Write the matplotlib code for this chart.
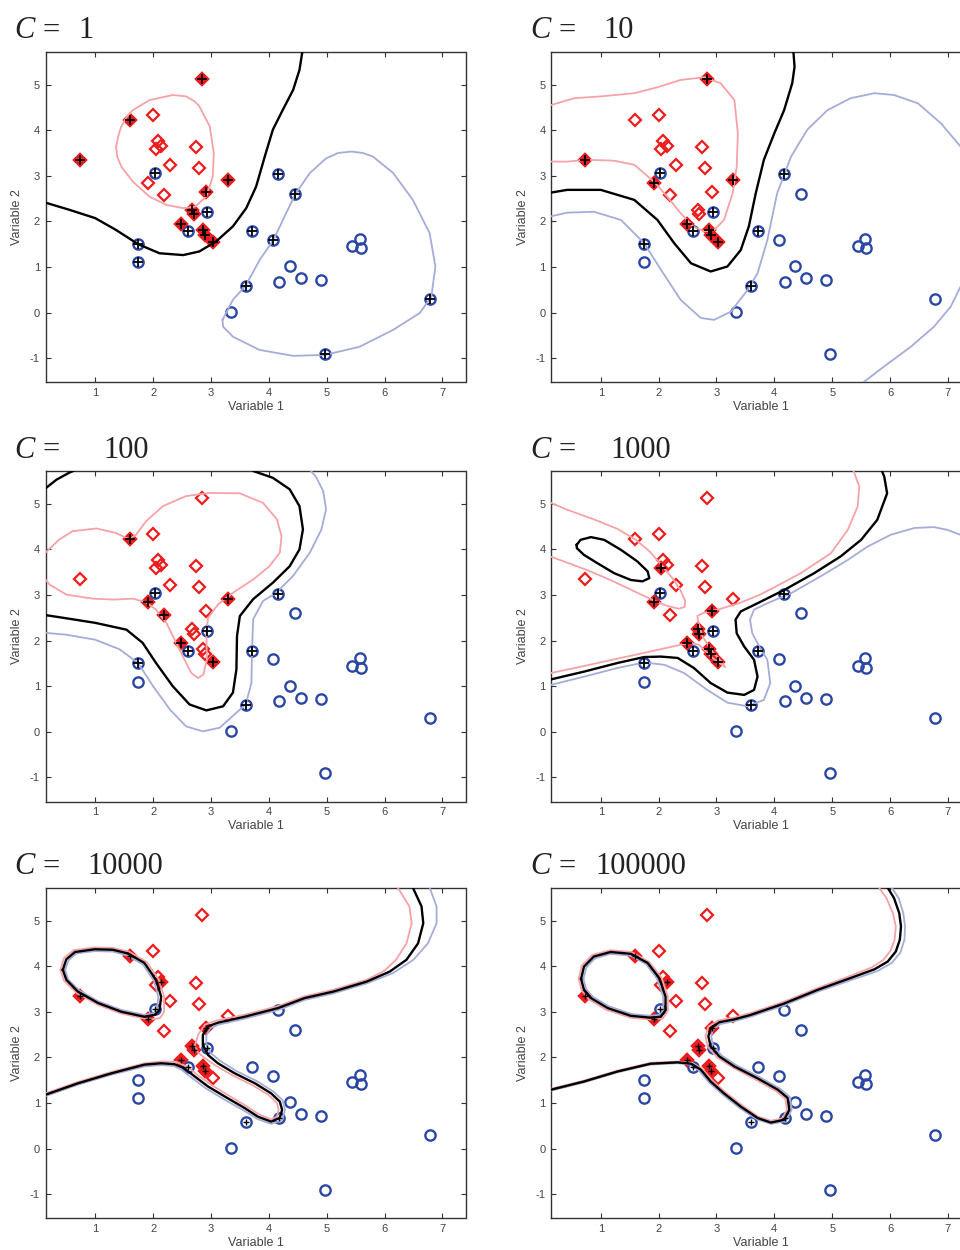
import numpy as np
import matplotlib.pyplot as plt

plt.rcParams['font.family'] = ['Liberation Sans', 'DejaVu Sans']
plt.rcParams['axes.unicode_minus'] = False

# ---- data points ---------------------------------------------------------
red_x = [0.73, 1.60, 2.00, 2.08, 2.14, 2.05, 2.75, 2.30, 2.80, 1.92,
         2.19, 3.29, 2.92, 2.84, 2.68, 2.70, 2.49, 2.87, 2.90, 3.03]
red_y = [3.35, 4.22, 4.33, 3.77, 3.66, 3.59, 3.64, 3.23, 3.18, 2.84,
         2.57, 2.91, 2.64, 5.12, 2.25, 2.15, 1.94, 1.81, 1.70, 1.54]
blue_x = [2.03, 2.94, 2.60, 3.71, 1.74, 1.74, 4.16, 4.46, 4.08, 5.44,
          5.57, 5.59, 4.36, 4.18, 4.55, 4.90, 3.60, 3.34, 4.97, 6.78]
blue_y = [3.05, 2.21, 1.78, 1.78, 1.50, 1.10, 3.03, 2.60, 1.59, 1.45,
          1.61, 1.41, 1.01, 0.67, 0.75, 0.72, 0.59, 0.01, -0.91, 0.30]

c_labels = ['1', '10', '100', '1000', '10000', '100000']

# support vectors (indices into the red / blue lists)
sv_red = [[0, 1, 11, 12, 13, 14, 15, 16, 17, 18, 19],
          [0, 9, 11, 13, 16, 17, 18, 19],
          [1, 9, 10, 11, 16, 19],
          [5, 9, 12, 14, 15, 16, 17, 18, 19],
          [0, 1, 4, 9, 12, 14, 15, 16, 17, 18],
          [0, 1, 4, 9, 12, 14, 15, 16, 17, 18]]
sv_blue = [[0, 1, 2, 3, 4, 5, 6, 7, 8, 16, 18, 19],
           [0, 1, 2, 3, 4, 6, 16],
           [0, 1, 2, 3, 4, 6, 16],
           [0, 1, 2, 3, 4, 6, 16],
           [0, 1, 2, 13, 16],
           [0, 1, 2, 13, 16]]

# ---- contour traces (decision = 0 black, +1 pink, -1 blue) ---------------
# C = 1
c1_black = [(0.14, 2.41), (0.56, 2.25), (1.00, 2.07), (1.36, 1.81), (1.74, 1.50),
            (2.11, 1.30), (2.52, 1.26), (2.80, 1.34), (3.09, 1.56), (3.38, 1.89),
            (3.61, 2.29), (3.78, 2.76), (3.93, 3.42), (4.07, 4.01), (4.24, 4.44),
            (4.42, 4.88), (4.53, 5.32), (4.58, 5.72)]
c1_pink = [(1.36, 3.64), (1.40, 3.88), (1.45, 4.08), (1.54, 4.28), (1.65, 4.44),
           (1.94, 4.66), (2.34, 4.77), (2.57, 4.74), (2.72, 4.63), (2.80, 4.52),
           (2.98, 4.08), (3.05, 3.49), (3.03, 2.98), (2.92, 2.54), (2.72, 2.32),
           (2.52, 2.29), (2.23, 2.36), (1.94, 2.54), (1.65, 2.87), (1.45, 3.20),
           (1.38, 3.42), (1.36, 3.64)]
c1_blue = [(3.20, -0.16), (3.38, 0.28), (3.60, 0.59), (3.84, 1.15), (4.08, 1.59),
           (4.30, 2.18), (4.46, 2.60), (4.71, 3.06), (4.99, 3.38), (5.20, 3.50),
           (5.43, 3.53), (5.62, 3.50), (5.80, 3.42), (6.15, 3.06), (6.49, 2.47),
           (6.78, 1.74), (6.88, 1.01), (6.81, 0.35), (6.61, -0.01), (6.15, -0.38),
           (5.57, -0.75), (4.97, -0.93), (4.42, -0.95), (3.84, -0.82), (3.38, -0.53),
           (3.21, -0.31), (3.20, -0.16)]

# C = 10
c10_black = [(0.14, 2.63), (0.42, 2.69), (1.00, 2.69), (1.58, 2.47), (1.98, 2.03),
             (2.27, 1.52), (2.56, 1.08), (2.90, 0.90), (3.19, 1.01), (3.42, 1.37),
             (3.56, 1.89), (3.68, 2.62), (3.82, 3.35), (4.00, 3.93), (4.17, 4.44),
             (4.31, 5.03), (4.35, 5.39), (4.33, 5.72)]
c10_pink = [(0.14, 4.55), (0.54, 4.70), (1.00, 4.74), (1.58, 4.81), (1.98, 4.94),
            (2.38, 5.10), (2.79, 5.16), (3.07, 5.03), (3.31, 4.66), (3.37, 3.93),
            (3.35, 3.20), (3.28, 2.62), (3.13, 2.03), (2.96, 1.81), (2.79, 1.78),
            (2.59, 1.89), (2.38, 2.18), (2.15, 2.54), (1.92, 2.87), (1.58, 3.24),
            (1.23, 3.33), (0.77, 3.35), (0.42, 3.31), (0.14, 3.31)]
c10_blue_a = [(0.14, 2.11), (0.42, 2.19), (0.88, 2.21), (1.35, 2.03), (1.75, 1.52),
              (2.04, 0.94), (2.38, 0.28), (2.73, -0.12), (2.96, -0.16), (3.25, 0.02),
              (3.54, 0.50), (3.71, 0.86), (3.88, 1.59), (4.05, 2.62), (4.29, 3.42),
              (4.57, 4.01), (4.92, 4.44), (5.32, 4.70), (5.73, 4.81), (6.07, 4.77),
              (6.48, 4.59), (6.88, 4.15), (7.22, 3.64), (7.40, 3.30)]
c10_blue_b = [(5.54, -1.53), (5.90, -1.18), (6.36, -0.75), (6.76, -0.31),
              (7.05, 0.13), (7.22, 0.57), (7.34, 0.86), (7.40, 1.05)]

# C = 100
c100_black_a = [(0.14, 5.34), (0.33, 5.53), (0.56, 5.69), (0.62, 5.72)]
c100_black_b = [(0.14, 2.56), (0.50, 2.49), (1.00, 2.39), (1.54, 2.24), (1.82, 1.95),
                (2.05, 1.51), (2.34, 1.00), (2.63, 0.60), (2.92, 0.47), (3.21, 0.56),
                (3.38, 0.86), (3.44, 1.37), (3.45, 2.10), (3.50, 2.54), (3.73, 2.91),
                (4.07, 3.27), (4.36, 3.63), (4.53, 4.00), (4.59, 4.44), (4.53, 4.95),
                (4.36, 5.32), (4.07, 5.57), (3.73, 5.72)]
c100_pink = [(0.14, 3.93), (0.38, 4.22), (0.61, 4.40), (1.02, 4.46), (1.36, 4.36),
             (1.59, 4.22), (1.71, 4.33), (1.88, 4.62), (2.17, 4.95), (2.57, 5.17),
             (2.98, 5.24), (3.50, 5.23), (3.90, 5.02), (4.14, 4.66), (4.22, 4.29),
             (4.19, 3.93), (4.01, 3.63), (3.73, 3.34), (3.38, 3.05), (3.12, 2.79),
             (2.95, 2.50), (2.92, 2.17), (2.93, 1.59), (2.87, 1.26), (2.78, 1.18),
             (2.66, 1.29), (2.54, 1.59), (2.40, 1.95), (2.23, 2.39), (2.05, 2.68),
             (1.88, 2.84), (1.65, 2.92), (1.31, 2.90), (0.96, 2.92), (0.50, 3.01),
             (0.21, 3.23), (0.14, 3.34)]
c100_blue = [(0.14, 2.17), (0.50, 2.13), (1.00, 2.02), (1.42, 1.81), (1.74, 1.51),
             (2.00, 1.00), (2.29, 0.49), (2.57, 0.12), (2.86, 0.01), (3.15, 0.09),
             (3.44, 0.42), (3.60, 0.60), (3.70, 1.07), (3.71, 1.81), (3.73, 2.47),
             (3.90, 2.87), (4.13, 3.05), (4.42, 3.42), (4.71, 3.93), (4.91, 4.44),
             (4.99, 4.88), (4.94, 5.28), (4.82, 5.58), (4.73, 5.72)]

# C = 1000
c1000_black_a = [(0.585, 4.10), (0.65, 4.21), (0.83, 4.27), (1.06, 4.21), (1.35, 3.99),
                 (1.63, 3.74), (1.81, 3.52), (1.84, 3.37), (1.72, 3.30), (1.52, 3.33),
                 (1.23, 3.48), (0.94, 3.70), (0.71, 3.88), (0.585, 4.03), (0.585, 4.10)]
c1000_black_b = [(0.14, 1.15), (0.71, 1.32), (1.29, 1.51), (1.75, 1.64), (2.04, 1.65),
                 (2.33, 1.62), (2.61, 1.40), (2.90, 1.07), (3.19, 0.86), (3.48, 0.81),
                 (3.65, 0.92), (3.71, 1.21), (3.65, 1.58), (3.48, 1.87), (3.35, 2.16),
                 (3.33, 2.46), (3.42, 2.64), (3.71, 2.82), (4.17, 3.11), (4.69, 3.48),
                 (5.15, 3.85), (5.50, 4.21), (5.78, 4.65), (5.95, 5.23), (5.90, 5.60),
                 (5.86, 5.72)]
c1000_pink_a = [(0.14, 5.02), (0.42, 4.87), (0.88, 4.66), (1.29, 4.45), (1.61, 4.21),
                (1.85, 3.95), (2.07, 3.63), (2.25, 3.35), (2.38, 3.10), (2.46, 2.87),
                (2.45, 2.74), (2.35, 2.70), (2.15, 2.76), (1.95, 2.86), (1.60, 3.07),
                (1.20, 3.31), (0.80, 3.53), (0.40, 3.72), (0.14, 3.84)]
c1000_pink_b = [(0.14, 1.29), (0.625, 1.42), (1.20, 1.58), (1.78, 1.74), (2.24, 1.87),
                (2.53, 1.95), (2.70, 1.91), (2.93, 1.62), (3.15, 1.42), (3.10, 1.52),
                (2.93, 1.76), (2.76, 2.09), (2.69, 2.38), (2.67, 2.54), (2.76, 2.60),
                (3.05, 2.69), (3.39, 2.82), (3.74, 3.00), (4.03, 3.19), (4.46, 3.48),
                (4.98, 3.92), (5.27, 4.43), (5.44, 4.94), (5.47, 5.38), (5.37, 5.72)]
c1000_blue = [(0.14, 1.03), (0.71, 1.21), (1.29, 1.40), (1.75, 1.52), (2.10, 1.47),
              (2.44, 1.29), (2.84, 0.92), (3.19, 0.64), (3.54, 0.56), (3.82, 0.70),
              (3.93, 1.07), (3.88, 1.58), (3.77, 1.80), (3.62, 2.16), (3.58, 2.46),
              (3.65, 2.68), (3.88, 2.82), (4.29, 3.04), (4.80, 3.41), (5.27, 3.77),
              (5.61, 4.06), (6.01, 4.32), (6.42, 4.47), (6.76, 4.49), (6.99, 4.43),
              (7.22, 4.32), (7.40, 4.20)]

# C = 10000
c10000_black_a = [(0.44, 3.92), (0.50, 4.15), (0.65, 4.31), (0.99, 4.37), (1.30, 4.36),
                  (1.56, 4.28), (1.85, 4.07), (2.05, 3.70), (2.14, 3.33), (2.11, 3.04),
                  (2.03, 2.93), (1.85, 2.89), (1.45, 3.00), (1.05, 3.19), (0.70, 3.44),
                  (0.50, 3.70), (0.44, 3.92)]
c10000_pink_a = [(0.40, 3.92), (0.46, 4.18), (0.63, 4.35), (0.99, 4.41), (1.30, 4.40),
                 (1.58, 4.32), (1.89, 4.09), (2.10, 3.70), (2.19, 3.33), (2.19, 3.00),
                 (2.12, 2.86), (1.95, 2.83), (1.85, 2.85), (1.45, 2.96), (1.05, 3.15),
                 (0.68, 3.41), (0.46, 3.68), (0.40, 3.92)]
c10000_blue_a = [(0.48, 3.92), (0.54, 4.13), (0.68, 4.28), (0.99, 4.33), (1.30, 4.32),
                 (1.54, 4.24), (1.82, 4.04), (2.01, 3.69), (2.09, 3.33), (2.07, 3.08),
                 (2.01, 2.97), (1.85, 2.93), (1.45, 3.04), (1.05, 3.23), (0.72, 3.47),
                 (0.53, 3.71), (0.48, 3.92)]
c10000_black_b = [(0.14, 1.18), (0.70, 1.43), (1.28, 1.65), (1.85, 1.84), (2.14, 1.87),
                  (2.37, 1.85), (2.54, 1.76), (2.72, 1.58), (2.95, 1.36), (3.24, 1.14),
                  (3.58, 0.89), (3.81, 0.70), (4.04, 0.59), (4.19, 0.67), (4.23, 0.85),
                  (4.19, 1.03), (4.04, 1.21), (3.76, 1.43), (3.41, 1.65), (3.12, 1.87),
                  (2.95, 2.05), (2.86, 2.27), (2.86, 2.49), (2.95, 2.68), (3.12, 2.76),
                  (3.58, 2.89), (4.16, 3.08), (4.62, 3.30), (5.11, 3.44), (5.69, 3.66),
                  (6.09, 3.88), (6.38, 4.14), (6.58, 4.50), (6.67, 4.94), (6.64, 5.31),
                  (6.49, 5.72)]
c10000_pink_b = [(0.14, 1.21), (0.70, 1.46), (1.28, 1.68), (1.85, 1.87), (2.14, 1.91),
                 (2.40, 1.90), (2.60, 1.79), (2.78, 1.60), (3.00, 1.40), (3.27, 1.19),
                 (3.60, 0.94), (3.83, 0.75), (4.04, 0.64), (4.14, 0.70), (4.17, 0.85),
                 (4.14, 1.00), (4.00, 1.17), (3.73, 1.38), (3.38, 1.60), (3.08, 1.82),
                 (2.90, 1.98), (2.78, 2.10), (2.72, 2.25), (2.78, 2.50), (2.90, 2.72),
                 (3.10, 2.81), (3.57, 2.93), (4.15, 3.12), (4.62, 3.34), (5.11, 3.48),
                 (5.69, 3.70), (6.00, 3.90), (6.20, 4.14), (6.38, 4.50), (6.47, 4.94),
                 (6.43, 5.31), (6.23, 5.72)]
c10000_blue_b = [(0.14, 1.15), (0.70, 1.40), (1.28, 1.62), (1.85, 1.80), (2.14, 1.83),
                 (2.36, 1.81), (2.50, 1.72), (2.68, 1.54), (2.91, 1.32), (3.21, 1.09),
                 (3.56, 0.84), (3.80, 0.65), (4.04, 0.54), (4.23, 0.62), (4.28, 0.85),
                 (4.24, 1.06), (4.08, 1.25), (3.79, 1.48), (3.44, 1.70), (3.16, 1.92),
                 (3.00, 2.09), (2.92, 2.28), (2.92, 2.48), (2.99, 2.64), (3.14, 2.72),
                 (3.59, 2.85), (4.17, 3.04), (4.62, 3.26), (5.11, 3.40), (5.69, 3.62),
                 (6.15, 3.85), (6.50, 4.14), (6.75, 4.50), (6.90, 4.94), (6.90, 5.31),
                 (6.78, 5.72)]

# C = 100000
c100000_black_a = [(0.66, 3.72), (0.71, 3.99), (0.88, 4.21), (1.17, 4.31), (1.52, 4.27),
                   (1.81, 4.07), (2.01, 3.74), (2.12, 3.33), (2.12, 3.04), (2.04, 2.89),
                   (1.86, 2.87), (1.52, 2.91), (1.12, 3.08), (0.83, 3.30), (0.71, 3.48),
                   (0.66, 3.72)]
c100000_pink_a = [(0.62, 3.72), (0.67, 4.01), (0.86, 4.25), (1.17, 4.35), (1.53, 4.31),
                  (1.84, 4.09), (2.05, 3.75), (2.16, 3.33), (2.16, 3.02), (2.07, 2.85),
                  (1.86, 2.83), (1.51, 2.87), (1.10, 3.04), (0.80, 3.27), (0.67, 3.47),
                  (0.62, 3.72)]
c100000_blue_a = [(0.70, 3.72), (0.75, 3.97), (0.90, 4.17), (1.17, 4.27), (1.51, 4.23),
                  (1.78, 4.05), (1.97, 3.73), (2.08, 3.33), (2.08, 3.06), (2.01, 2.93),
                  (1.86, 2.91), (1.53, 2.95), (1.14, 3.12), (0.86, 3.33), (0.75, 3.49),
                  (0.70, 3.72)]
c100000_black_b = [(0.14, 1.29), (0.71, 1.47), (1.29, 1.69), (1.86, 1.86), (2.33, 1.89),
                   (2.56, 1.86), (2.73, 1.73), (2.90, 1.47), (3.13, 1.21), (3.42, 0.92),
                   (3.71, 0.67), (3.94, 0.57), (4.17, 0.63), (4.26, 0.85), (4.23, 1.11),
                   (4.06, 1.29), (3.71, 1.54), (3.31, 1.80), (3.05, 2.02), (2.90, 2.24),
                   (2.86, 2.46), (2.90, 2.64), (3.05, 2.77), (3.30, 2.83), (3.59, 2.93),
                   (4.17, 3.18), (4.75, 3.48), (5.32, 3.74), (5.73, 3.93), (5.96, 4.10),
                   (6.10, 4.32), (6.17, 4.58), (6.19, 4.87), (6.16, 5.16), (6.07, 5.49),
                   (5.96, 5.72)]
c100000_pink_b = [(0.14, 1.31), (0.71, 1.49), (1.29, 1.71), (1.86, 1.88), (2.33, 1.91),
                  (2.58, 1.88), (2.76, 1.74), (2.93, 1.49), (3.15, 1.24), (3.44, 0.95),
                  (3.72, 0.70), (3.94, 0.61), (4.14, 0.66), (4.22, 0.85), (4.19, 1.09),
                  (4.03, 1.26), (3.68, 1.51), (3.28, 1.78), (3.01, 2.00), (2.85, 2.23),
                  (2.81, 2.46), (2.86, 2.67), (3.03, 2.81), (3.30, 2.87), (3.59, 2.97),
                  (4.17, 3.22), (4.75, 3.52), (5.30, 3.78), (5.68, 3.97), (5.88, 4.13),
                  (6.01, 4.34), (6.08, 4.58), (6.10, 4.87), (6.05, 5.16), (5.94, 5.49),
                  (5.81, 5.72)]
c100000_blue_b = [(0.14, 1.27), (0.71, 1.45), (1.29, 1.67), (1.86, 1.84), (2.33, 1.87),
                  (2.54, 1.84), (2.70, 1.71), (2.87, 1.45), (3.11, 1.18), (3.40, 0.89),
                  (3.70, 0.64), (3.94, 0.54), (4.20, 0.60), (4.30, 0.85), (4.27, 1.13),
                  (4.09, 1.32), (3.74, 1.57), (3.34, 1.83), (3.09, 2.04), (2.94, 2.25),
                  (2.91, 2.46), (2.94, 2.61), (3.07, 2.73), (3.30, 2.79), (3.59, 2.89),
                  (4.17, 3.14), (4.75, 3.44), (5.34, 3.70), (5.78, 3.89), (6.03, 4.07),
                  (6.18, 4.30), (6.25, 4.58), (6.26, 4.87), (6.23, 5.16), (6.15, 5.49),
                  (6.03, 5.72)]

# curves drawn in each panel: pink / blue first, black on top
panel_curves = [
    {'pink': [c1_pink], 'blue': [c1_blue], 'black': [c1_black]},
    {'pink': [c10_pink], 'blue': [c10_blue_a, c10_blue_b], 'black': [c10_black]},
    {'pink': [c100_pink], 'blue': [c100_blue], 'black': [c100_black_a, c100_black_b]},
    {'pink': [c1000_pink_a, c1000_pink_b], 'blue': [c1000_blue],
     'black': [c1000_black_a, c1000_black_b]},
    {'pink': [c10000_pink_a, c10000_pink_b], 'blue': [c10000_blue_a, c10000_blue_b],
     'black': [c10000_black_a, c10000_black_b]},
    {'pink': [c100000_pink_a, c100000_pink_b], 'blue': [c100000_blue_a, c100000_blue_b],
     'black': [c100000_black_a, c100000_black_b]},
]

# ---- layout (pixels of the 960x1250 figure) ------------------------------
W, H = 960, 1250
ax_w, ax_h = 420, 330.6
lefts = [45.5, 551]
tops = [51.7, 471, 887.7]
title_base = [38.3, 457.7, 874.3]
title_c_x = [14, 530]
num_x = [78, 603, 103, 610, 87, 595]

line_col = {'pink': '#f5a3a8', 'blue': '#a6acd8', 'black': 'black'}
line_w = {'pink': 1.3, 'blue': 1.3, 'black': 1.7}
red_col = '#ee1c1c'
blue_col = '#2b47a6'

fig = plt.figure(figsize=(W / 100, H / 100), dpi=100)

for k in range(6):
    row, col = divmod(k, 2)
    left = lefts[col]
    top = tops[row]
    ax = fig.add_axes([left / W, 1 - (top + ax_h) / H, ax_w / W, ax_h / H])

    ax.plot(red_x, red_y, linestyle='none', marker='D', ms=5.8, mew=1.6,
            mfc='none', mec=red_col, zorder=2)
    ax.plot(blue_x, blue_y, linestyle='none', marker='o', ms=7.4, mew=1.7,
            mfc='none', mec=blue_col, zorder=2)
    rs = sv_red[k]
    ax.plot([red_x[i] for i in rs], [red_y[i] for i in rs], linestyle='none',
            marker='D', ms=5.8, mew=1.6, mfc=red_col, mec=red_col, zorder=2)

    for name in ['pink', 'blue', 'black']:
        for seg in panel_curves[k][name]:
            xs = [p[0] for p in seg]
            ys = [p[1] for p in seg]
            ax.plot(xs, ys, color=line_col[name], lw=line_w[name],
                    solid_joinstyle='round', zorder=3)

    bs = sv_blue[k]
    sx = [red_x[i] for i in rs] + [blue_x[i] for i in bs]
    sy = [red_y[i] for i in rs] + [blue_y[i] for i in bs]
    big = k < 4
    ax.plot(sx, sy, linestyle='none', marker='+', ms=6.5 if big else 4.5,
            mew=1.3 if big else 1.0, color='black', zorder=4)

    ax.set_xlim(0.14, 7.4)
    ax.set_ylim(-1.53, 5.72)
    ax.set_xticks(range(1, 8))
    ax.set_yticks(range(-1, 6))
    ax.tick_params(direction='in', length=3.5, width=0.8, top=True, right=True,
                   labelsize=8, labelcolor='#444444', color='#333333', pad=4)
    for sp in ax.spines.values():
        sp.set_color('#333333')
        sp.set_linewidth(1.0)
    ax.set_xlabel('Variable 1', fontsize=9, color='#444444', labelpad=2)
    ax.set_ylabel('Variable 2', fontsize=9, color='#444444', labelpad=5)

    yb = 1 - title_base[row] / H
    fig.text(title_c_x[col] / W, yb, 'C', family='Liberation Serif',
             style='italic', fontsize=22, va='baseline', color='#222222')
    fig.text((title_c_x[col] + 28) / W, yb, '=', family='Liberation Serif',
             fontsize=22, va='baseline', color='#222222')
    fig.text(num_x[k] / W, yb, c_labels[k], family='Liberation Serif',
             fontsize=22, va='baseline', color='#222222')

fig.savefig('out.png', dpi=100)
